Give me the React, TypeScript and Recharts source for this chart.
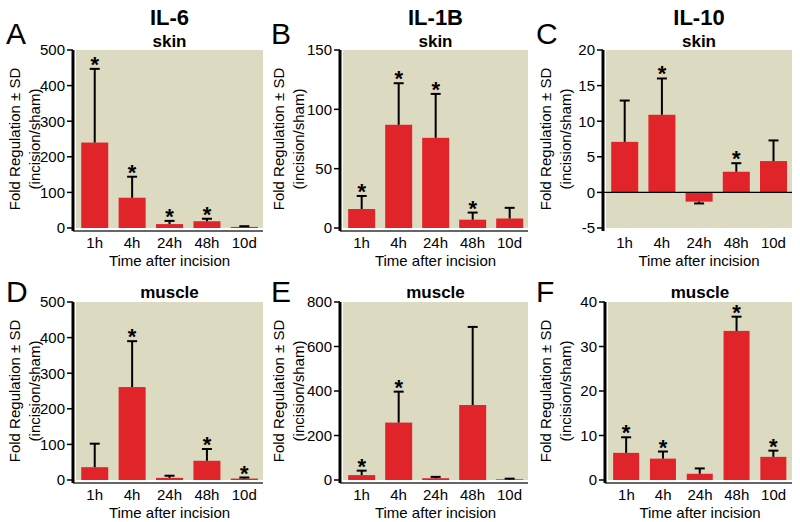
import React from "react";
import { BarChart, Bar, XAxis, YAxis, ReferenceLine } from "recharts";

// time points after incision
const timepoints = ["1h", "4h", "24h", "48h", "10d"];

// A - IL-6 skin
const il6SkinMean = [240, 85, 11, 19, 3];
const il6SkinSd = [207, 59, 9, 7, 2];
const il6SkinSig = [true, true, true, true, false];
const il6SkinTicks = [0, 100, 200, 300, 400, 500];

// B - IL-1B skin
const il1bSkinMean = [16, 87, 76, 7, 8];
const il1bSkinSd = [11, 35, 37, 6, 9];
const il1bSkinSig = [true, true, true, true, false];
const il1bSkinTicks = [0, 50, 100, 150];

// C - IL-10 skin
const il10SkinMean = [7.1, 10.9, -1.3, 2.9, 4.4];
const il10SkinSd = [5.8, 5.1, 0.25, 1.2, 2.9];
const il10SkinSig = [false, true, false, true, false];
const il10SkinTicks = [-5, 0, 5, 10, 15, 20];

// D - IL-6 muscle
const il6MuscleMean = [36, 261, 6, 54, 4];
const il6MuscleSd = [66, 129, 6, 33, 3];
const il6MuscleSig = [false, true, false, true, true];
const il6MuscleTicks = [0, 100, 200, 300, 400, 500];

// E - IL-1B muscle
const il1bMuscleMean = [22, 258, 8, 337, 3];
const il1bMuscleSd = [20, 139, 6, 351, 3];
const il1bMuscleSig = [true, true, false, false, false];
const il1bMuscleTicks = [0, 200, 400, 600, 800];

// F - IL-10 muscle
const il10MuscleMean = [6.1, 4.8, 1.4, 33.5, 5.2];
const il10MuscleSd = [3.5, 1.6, 1.2, 3.2, 1.4];
const il10MuscleSig = [true, true, false, true, true];
const il10MuscleTicks = [0, 10, 20, 30, 40];

const BAR = "#e1232a";
const BG = "#dcdac0";
const FONT = "'Liberation Sans', Arial, sans-serif";

const buildRows = (mean: number[], sd: number[], sig: boolean[]) =>
  timepoints.map((t, i) => ({ time: t, mean: mean[i], sd: sd[i], sig: sig[i] }));

const panels = [
  { letter: "A", cytokine: "IL-6", tissue: "skin", rows: buildRows(il6SkinMean, il6SkinSd, il6SkinSig), ticks: il6SkinTicks, col: 0, row: 0, axisX: 73, right: 263 },
  { letter: "B", cytokine: "IL-1B", tissue: "skin", rows: buildRows(il1bSkinMean, il1bSkinSd, il1bSkinSig), ticks: il1bSkinTicks, col: 265, row: 0, axisX: 340, right: 528 },
  { letter: "C", cytokine: "IL-10", tissue: "skin", rows: buildRows(il10SkinMean, il10SkinSd, il10SkinSig), ticks: il10SkinTicks, col: 530, row: 0, axisX: 603, right: 792 },
  { letter: "D", cytokine: "", tissue: "muscle", rows: buildRows(il6MuscleMean, il6MuscleSd, il6MuscleSig), ticks: il6MuscleTicks, col: 0, row: 252, axisX: 73, right: 263 },
  { letter: "E", cytokine: "", tissue: "muscle", rows: buildRows(il1bMuscleMean, il1bMuscleSd, il1bMuscleSig), ticks: il1bMuscleTicks, col: 265, row: 252, axisX: 340, right: 528 },
  { letter: "F", cytokine: "", tissue: "muscle", rows: buildRows(il10MuscleMean, il10MuscleSd, il10MuscleSig), ticks: il10MuscleTicks, col: 530, row: 252, axisX: 605, right: 792 },
];

// bar + one-sided SD whisker + significance star
const BarWithSd = (props: any) => {
  const { x, y, width, height, payload } = props;
  const mean = payload.mean;
  const top = Math.min(y, y + height);
  const h = Math.abs(height);
  const ppu = mean !== 0 ? h / Math.abs(mean) : 0;
  const end = mean < 0 ? top + h : top;
  const errY = mean < 0 ? end + payload.sd * ppu : end - payload.sd * ppu;
  const cx = x + width / 2;
  return (
    <g>
      <rect x={x} y={top} width={width} height={h} fill={BAR} />
      <line x1={cx} x2={cx} y1={end} y2={errY} stroke="#000" strokeWidth={2} />
      <line x1={cx - 5} x2={cx + 5} y1={errY} y2={errY} stroke="#000" strokeWidth={2} />
      {payload.sig && (
        <text x={cx} y={errY + 3} textAnchor="middle" fontSize={22} fontWeight="bold" fill="#000">
          *
        </text>
      )}
    </g>
  );
};

function Panel({ p }: { p: (typeof panels)[number] }) {
  const width = p.right + 2 - p.col;
  const hasNeg = p.ticks[0] < 0;
  return (
    <div style={{ position: "absolute", left: p.col, top: p.row }}>
      <div
        style={{
          position: "absolute",
          left: p.axisX - p.col + 3,
          top: 50,
          width: p.right - p.axisX - 3,
          height: 178,
          background: BG,
        }}
      />
      <div style={{ position: "absolute", left: 0, top: 0 }}>
        <BarChart
          width={width}
          height={275}
          data={p.rows}
          margin={{ top: 50, right: 2, left: 0, bottom: 0 }}
          barCategoryGap="14%"
        >
          <XAxis
            dataKey="time"
            height={44}
            padding={{ left: 3, right: 0 }}
            axisLine={hasNeg ? false : { stroke: "#333", strokeWidth: 1.5 }}
            tickLine={false}
            tickSize={0}
            tickMargin={6}
            tick={{ fill: "#000", fontSize: 15 }}
            interval={0}
          />
          <YAxis
            width={p.axisX - p.col}
            domain={[p.ticks[0], p.ticks[p.ticks.length - 1]]}
            ticks={p.ticks}
            padding={{ top: 0, bottom: 3 }}
            axisLine={{ stroke: "#000", strokeWidth: 3 }}
            tickLine={{ stroke: "#000", strokeWidth: 1.5 }}
            tickSize={6}
            tick={{ fill: "#000", fontSize: 15 }}
            interval={0}
          />
          {hasNeg && <ReferenceLine y={0} stroke="#000" strokeWidth={1.2} />}
          <Bar dataKey="mean" shape={BarWithSd} isAnimationActive={false} />
        </BarChart>
      </div>
    </div>
  );
}

export default function App() {
  return (
    <div
      style={{
        position: "fixed",
        left: 0,
        top: 0,
        width: 800,
        height: 522,
        background: "#fff",
        fontFamily: FONT,
      }}
    >
      {panels.map((p) => (
        <Panel key={p.letter} p={p} />
      ))}
      <svg
        width={800}
        height={522}
        style={{ position: "absolute", left: 0, top: 0, pointerEvents: "none" }}
        fontFamily={FONT}
      >
        {panels.map((p) => {
          const cx = (p.axisX + 3 + p.right) / 2;
          const mid = p.row + 139;
          const lx = p.col + (p.col === 530 ? 15 : p.col === 265 ? 13 : 14);
          return (
            <g key={p.letter}>
              <text x={p.col + 6} y={p.row + (p.row ? 50 : 44)} fontSize={30} fill="#000">
                {p.letter}
              </text>
              {p.cytokine && (
                <text x={cx} y={25} textAnchor="middle" fontSize={22} fontWeight="bold" fill="#000">
                  {p.cytokine}
                </text>
              )}
              <text x={cx} y={p.row + (p.row ? 46 : 47)} textAnchor="middle" fontSize={17} fontWeight="bold" fill="#000">
                {p.tissue}
              </text>
              <text x={cx} y={p.row + 266} textAnchor="middle" fontSize={15} fill="#000">
                Time after incision
              </text>
              <text transform={`translate(${lx},${mid}) rotate(-90)`} textAnchor="middle" dominantBaseline="central" fontSize={15} fill="#000">
                Fold Regulation ± SD
              </text>
              <text transform={`translate(${lx + 20},${mid}) rotate(-90)`} textAnchor="middle" dominantBaseline="central" fontSize={15} fill="#000">
                (incision/sham)
              </text>
            </g>
          );
        })}
      </svg>
    </div>
  );
}
